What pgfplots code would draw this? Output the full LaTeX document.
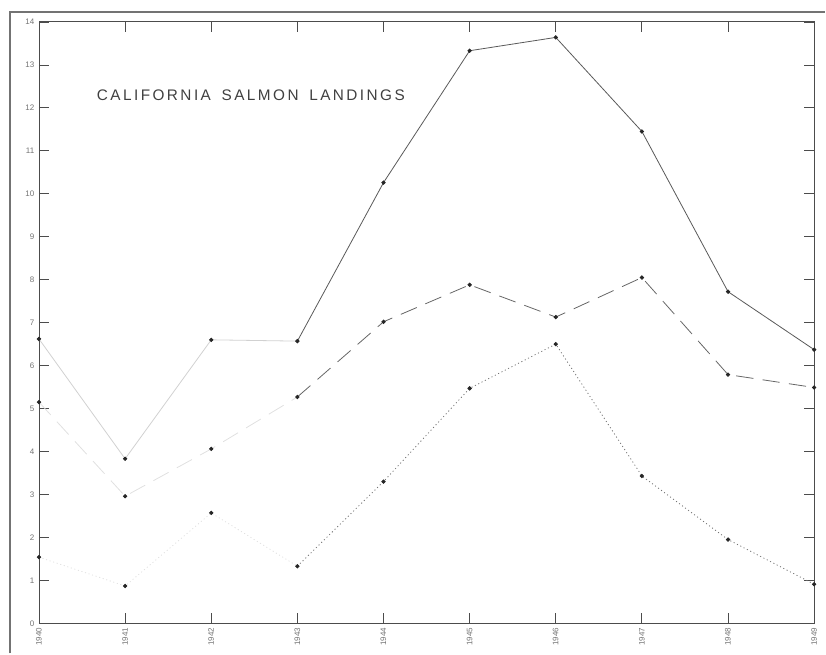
\documentclass[border=0pt]{standalone}
\usepackage{pgfplots}
\pgfplotsset{compat=1.18}
\usepackage{pgfplotstable}
\usepackage{fontspec}
\setmainfont{Liberation Sans}
\newfontfamily\titlefont[LetterSpace=16]{Liberation Sans}

% California salmon landings (the top line is the sum of the other two)
\pgfplotstableread{
year total
1940 6.62
1941 3.83
1942 6.60
1943 6.57
1944 10.26
1945 13.33
1946 13.64
1947 11.45
1948 7.72
1949 6.37
}\totaltab
\pgfplotstableread{
year val
1940 5.15
1941 2.96
1942 4.06
1943 5.27
1944 7.02
1945 7.88
1946 7.13
1947 8.05
1948 5.79
1949 5.49
}\dashtab
\pgfplotstableread{
year val
1940 1.54
1941 0.87
1942 2.57
1943 1.33
1944 3.30
1945 5.47
1946 6.50
1947 3.43
1948 1.95
1949 0.91
}\dottab

\begin{document}
\begin{tikzpicture}
\begin{axis}[
    scale only axis,
    width=582pt,
    height=451.5pt,
    xmin=1940, xmax=1949,
    ymin=0, ymax=14,
    xtick={1940,...,1949},
    ytick={0,...,14},
    /pgf/number format/1000 sep={},
    /pgf/number format/assume math mode=true,
    xticklabel style={rotate=90, anchor=east, font=\fontsize{6}{7}\selectfont, text=black!55},
    yticklabel style={font=\fontsize{6}{7}\selectfont, text=black!55},
    tick align=inside,
    major tick length=7.5pt,
    axis line style={black!70, line width=0.7pt},
    tick style={black!70, line width=0.6pt},
    clip=false,
    every axis plot/.append style={line width=0.6pt},
    ]

    % faded early segments
    \addplot[black!18, no marks, restrict x to domain=1940:1943] table[x=year, y=total] {\totaltab};
    \addplot[black!12, dash pattern=on 13pt off 7pt, no marks, restrict x to domain=1940:1943] table[x=year, y=val] {\dashtab};
    \addplot[black!12, dash pattern=on 0.8pt off 2pt, no marks, restrict x to domain=1940:1943] table[x=year, y=val] {\dottab};

    % visible segments
    \addplot[black!65, no marks, restrict x to domain=1943:1949] table[x=year, y=total] {\totaltab};
    \addplot[black!60, dash pattern=on 13pt off 7pt, no marks, restrict x to domain=1943:1949] table[x=year, y=val] {\dashtab};
    \addplot[black!55, dash pattern=on 0.8pt off 2pt, no marks, restrict x to domain=1943:1949] table[x=year, y=val] {\dottab};

    % points
    \addplot[only marks, mark=*, mark size=1.3pt, black!85] table[x=year, y=total] {\totaltab};
    \addplot[only marks, mark=*, mark size=1.3pt, black!85] table[x=year, y=val] {\dashtab};
    \addplot[only marks, mark=*, mark size=1.3pt, black!85] table[x=year, y=val] {\dottab};

    \node[anchor=west, inner sep=0pt, text=black!75, font=\titlefont\fontsize{11.5}{13}\selectfont]
        at (axis cs:1940.67,12.30) {CALIFORNIA\hspace{0.7em}SALMON\hspace{0.7em}LANDINGS};

    % scan frame and picture extent
    \draw[black!55, line width=1.2pt] (rel axis cs:-0.0374,-0.0498) -- (rel axis cs:-0.0374,1.0166) -- (rel axis cs:1.0142,1.0166);
    \path (rel axis cs:-0.0503,-0.0498) rectangle (rel axis cs:1.0142,1.0365);
\end{axis}
\end{tikzpicture}
\end{document}
